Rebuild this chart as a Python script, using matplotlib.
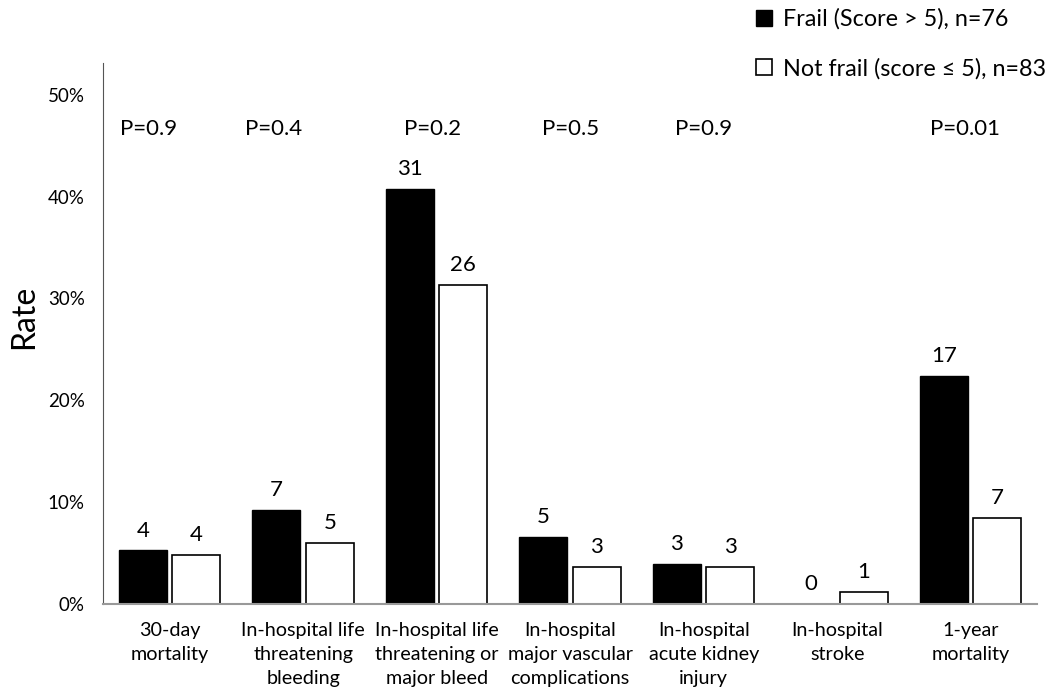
import numpy as np
import matplotlib
matplotlib.use("Agg")
import matplotlib.pyplot as plt
from matplotlib.patches import Patch

plt.rcParams['font.family'] = ['Lato', 'DejaVu Sans']

categories = ["30-day\nmortality",
              "In-hospital life\nthreatening\nbleeding",
              "In-hospital life\nthreatening or\nmajor bleed",
              "In-hospital\nmajor vascular\ncomplications",
              "In-hospital\nacute kidney\ninjury",
              "In-hospital\nstroke",
              "1-year\nmortality"]
frail_n = [4, 7, 31, 5, 3, 0, 17]
notfrail_n = [4, 5, 26, 3, 3, 1, 7]
frail_total = 76
notfrail_total = 83
p_values = ["P=0.9", "P=0.4", "P=0.2", "P=0.5", "P=0.9", "", "P=0.01"]
yticks = [0, 0.1, 0.2, 0.3, 0.4, 0.5]

frail_rate = np.array(frail_n) / frail_total
notfrail_rate = np.array(notfrail_n) / notfrail_total

fig = plt.figure(figsize=(10.5, 6.97), dpi=100)
ax = fig.add_axes([0.098, 0.1334, 0.89, 0.776])

x = np.arange(len(categories))
w = 0.36
ax.bar(x - 0.2, frail_rate, w, color='black', edgecolor='black')
ax.bar(x + 0.2, notfrail_rate, w, color='white', edgecolor='black', linewidth=1.2)

for xi, r, n in zip(x, frail_rate, frail_n):
    ax.annotate(str(n), (xi - 0.2, r), xytext=(0, 7), textcoords='offset points',
                ha='center', va='bottom', fontsize=16)
for xi, r, n in zip(x, notfrail_rate, notfrail_n):
    ax.annotate(str(n), (xi + 0.2, r), xytext=(0, 7), textcoords='offset points',
                ha='center', va='bottom', fontsize=16)

# p-value labels, hand-nudged like in the original
p_shift = [-0.16, -0.22, -0.03, 0.0, 0.0, 0.0, -0.04]
for xi, p, s in zip(x, p_values, p_shift):
    ax.text(xi + s, 0.466, p, ha='center', va='center', fontsize=16)

ax.set_xlim(-0.5, len(categories) - 0.5)
ax.set_ylim(0, 0.531)
ax.set_yticks(yticks)
ax.set_yticklabels([f"{int(round(t * 100))}%" for t in yticks], fontsize=13.5)
ax.set_xticks(x)
ax.set_xticklabels(categories, fontsize=14.2, linespacing=1.5)
ax.tick_params(axis='x', length=0, pad=13)
ax.tick_params(axis='y', length=0, pad=13)
ax.set_ylabel("Rate", fontsize=23)
ax.yaxis.set_label_coords(-0.068, 0.53)

for s in ['top', 'right']:
    ax.spines[s].set_visible(False)
ax.spines['left'].set_color('#555555')
ax.spines['bottom'].set_color('#999999')
ax.spines['bottom'].set_linewidth(1.5)

handles = [Patch(facecolor='black', edgecolor='black'),
           Patch(facecolor='white', edgecolor='black', linewidth=1.2)]
fig.legend(handles, ["Frail (Score > 5), n=76", "Not frail (score \u2264 5), n=83"],
           loc='upper left', bbox_to_anchor=(0.7, 1.018), frameon=False,
           fontsize=16.8, handlelength=0.7, handleheight=0.7, handletextpad=0.45,
           labelspacing=1.2)

fig.savefig("out.png", dpi=100)
